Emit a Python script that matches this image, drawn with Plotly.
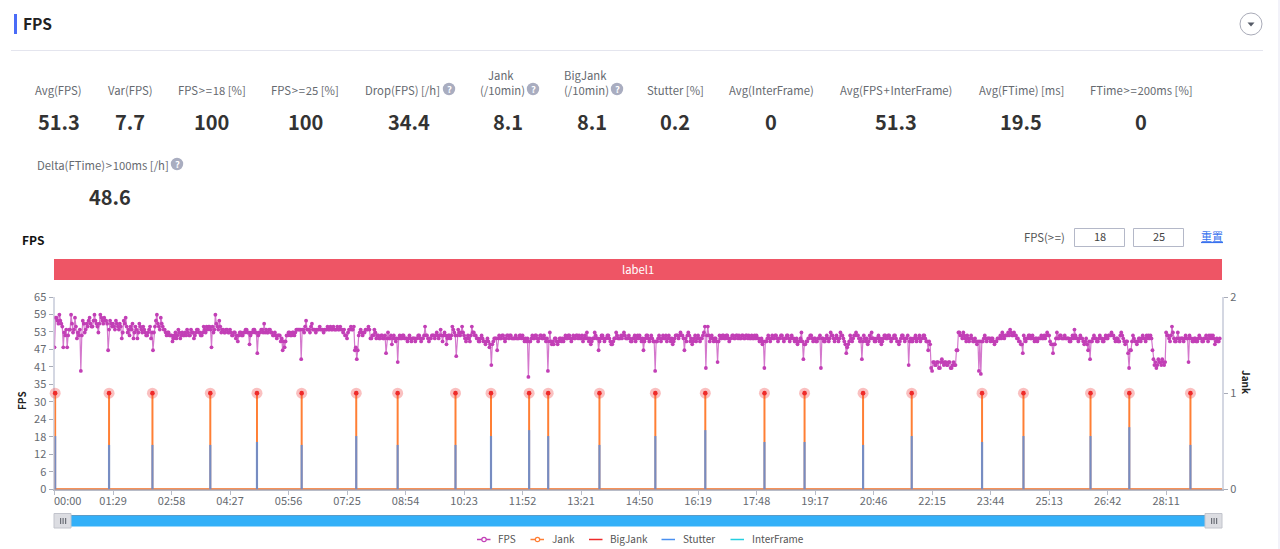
import plotly.graph_objects as go

W, H = 1280, 549
PL, PR, PT, PB = 54.5, 1222.0, 297.0, 489.3

# ---------- data ----------
fps_step_seconds = 89 / 60
fps_values = [
    48,58,58,57,56,59,57,56,55,48,53,52,54,48,52,54,54,59,56,53,54,58,55,51,53,52,54,40,52,57,56,53,54,56,55,57,58,56,55,55,57,59,57,56,55,53,56,59,58,57,56,58,57,57,56,47,54,57,56,55,
    56,55,54,57,56,55,54,56,55,51,53,57,56,58,55,53,54,52,55,54,56,51,53,55,54,51,53,56,55,54,53,55,54,53,52,52,53,54,55,51,53,47,53,55,57,59,56,55,54,58,56,55,54,54,53,52,53,53,52,52,
    52,50,51,52,53,51,52,54,53,51,52,53,52,52,53,52,54,53,52,52,54,53,53,51,52,53,54,54,53,53,52,52,53,55,54,53,55,54,55,55,54,48,55,53,54,59,56,55,54,57,55,53,54,54,53,53,54,54,53,53,
    54,53,52,52,53,53,51,52,50,52,53,53,52,52,53,53,54,54,53,53,49,52,53,53,54,54,53,53,46,52,53,53,54,54,53,56,53,54,53,53,54,54,53,53,52,52,53,52,51,52,52,52,50,51,47,50,48,50,52,52,
    53,53,52,52,53,53,52,53,54,54,54,54,54,44,54,54,53,55,57,54,54,54,53,55,56,54,54,54,53,54,54,54,55,54,54,54,53,54,54,54,55,54,54,55,54,54,55,54,54,54,55,54,54,55,54,54,53,54,52,52,
    51,53,54,54,55,54,54,55,47,48,44,47,52,53,54,53,52,53,53,54,54,54,55,54,51,51,52,52,54,53,51,52,52,51,51,52,52,51,51,52,46,51,53,51,51,52,49,51,52,51,50,51,43,51,52,51,51,52,52,51,
    51,51,50,51,52,51,50,51,51,51,50,51,51,52,52,51,50,51,51,52,55,52,52,51,50,51,51,52,52,52,51,52,53,52,51,52,54,52,50,52,53,52,49,51,52,52,51,52,55,54,53,52,45,52,54,53,52,53,55,53,
    52,51,50,51,52,51,50,52,55,53,53,52,52,51,51,50,50,51,52,51,50,50,49,50,51,50,48,49,42,49,50,51,51,51,47,51,52,51,51,52,52,51,50,51,52,52,51,52,52,51,51,51,51,52,51,51,51,52,52,51,
    52,51,50,51,50,51,38,50,50,51,52,51,51,52,52,51,50,51,52,52,51,51,52,51,50,51,40,50,53,50,49,50,49,51,51,50,49,50,51,51,50,51,50,51,52,51,51,52,52,51,50,51,52,51,51,52,52,51,52,51,
    51,52,50,51,52,51,53,51,50,51,49,50,51,51,53,52,51,51,47,50,51,52,52,51,50,51,51,52,52,51,50,49,49,50,51,51,53,52,51,51,51,52,51,52,53,52,51,51,51,52,51,50,50,51,51,52,50,51,52,51,
    52,51,50,51,47,50,51,52,52,51,50,51,52,51,50,50,40,50,50,51,52,51,50,51,52,51,51,52,50,51,52,51,50,51,49,50,51,52,52,52,51,52,53,52,52,51,47,51,50,52,53,52,50,51,49,50,51,52,50,51,
    52,51,50,51,51,52,53,55,41,52,55,52,50,51,52,51,50,51,51,50,43,50,52,51,51,52,52,51,51,52,52,51,50,51,51,52,52,51,51,52,52,51,52,51,51,52,52,51,51,52,52,51,52,51,51,52,51,51,52,51,
    52,51,51,50,50,51,49,50,41,50,50,51,52,51,50,51,52,51,51,52,52,51,50,51,51,52,52,51,50,51,51,52,52,51,50,51,52,51,51,50,50,51,49,50,50,51,53,50,44,49,49,50,50,51,51,52,52,51,50,51,
    51,50,50,51,51,52,41,51,51,50,50,51,52,51,50,51,53,52,52,51,50,51,52,51,50,51,53,52,52,51,50,49,46,48,49,50,52,51,50,51,52,52,53,52,52,51,50,51,44,50,52,51,50,51,49,50,52,51,53,51,
    51,50,50,51,51,52,50,51,49,50,51,52,52,51,51,52,52,51,50,51,51,52,52,51,50,50,49,50,51,52,52,51,50,51,51,52,42,50,51,50,50,51,51,52,50,51,51,52,50,51,51,52,52,51,50,50,47,50,49,41,
    40,43,43,42,42,43,43,41,41,43,44,43,42,43,43,42,42,43,43,41,41,42,43,42,42,47,47,53,53,52,52,51,53,52,51,50,52,51,50,51,52,51,50,50,51,50,49,50,40,50,39,50,50,51,52,51,50,51,51,51,
    50,51,51,50,49,50,50,51,51,51,52,51,53,52,51,52,52,52,53,52,54,53,52,52,53,52,52,51,51,50,50,49,49,46,52,51,50,51,51,52,52,51,51,52,51,50,51,51,50,51,51,51,52,51,51,52,51,52,53,52,
    52,50,49,49,46,49,49,51,53,51,51,52,52,51,51,51,52,51,51,51,51,50,50,51,52,51,54,52,51,51,50,51,52,51,51,50,49,50,51,49,47,50,44,50,50,51,52,51,51,50,50,51,52,51,51,50,50,51,52,51,
    51,52,52,52,53,52,52,51,50,51,51,50,50,52,53,52,51,50,49,50,50,46,41,47,47,50,52,51,50,50,49,50,51,51,50,51,52,51,51,50,52,51,52,51,52,51,47,44,42,43,41,42,44,43,43,42,44,43,42,43,
    53,52,52,51,50,52,55,53,51,50,50,51,53,51,50,51,51,51,50,51,52,51,51,43,52,51,51,50,50,51,51,50,50,51,52,51,51,50,50,51,51,52,51,50,52,51,52,51,52,51,49,50,51,50,50,51,
]
fps_seconds = [i * fps_step_seconds for i in range(len(fps_values))]

duration_seconds = 1776
event_seconds = [1, 83, 149, 237, 308, 376, 459, 522, 610, 664, 722, 751, 829,
                 914, 990, 1080, 1141, 1230, 1304, 1411, 1474, 1576, 1635, 1728]
stutter_values = [18, 15, 15, 15, 16, 15, 18, 15, 15, 18, 20, 18, 15,
                  18, 20, 16, 16, 15, 18, 16, 18, 18, 21, 15]
jank_values = [1] * len(event_seconds)

x_tick_seconds = [89 * i for i in range(20)]
x_tick_labels = ["", "01:29", "02:58", "04:27", "05:56", "07:25", "08:54", "10:23", "11:52",
                 "13:21", "14:50", "16:19", "17:48", "19:17", "20:46", "22:15", "23:44",
                 "25:13", "26:42", "28:11"]
y_tick_labels = ["0", "6", "12", "18", "24", "30", "35", "41", "47", "53", "59", "65"]
y_tick_values = [i * 65 / 11 for i in range(12)]

TS = "\u200a"
stat_labels = ["Avg(FPS)", "Var(FPS)", f"FPS{TS}>{TS}={TS}18 [%]", f"FPS{TS}>{TS}={TS}25 [%]", "Drop(FPS) [/h]", "(/10min)", "(/10min)",
               "Stutter [%]", "Avg(InterFrame)", f"Avg(FPS{TS}+{TS}InterFrame)", "Avg(FTime) [ms]", f"FTime{TS}>{TS}={TS}200ms [%]"]
stat_values = ["51.3", "7.7", "100", "100", "34.4", "8.1", "8.1", "0.2", "0", "51.3", "19.5", "0"]

# ---------- colours ----------
C_FPS, C_JANK, C_BIG, C_STUT, C_INTER = "#c23fb6", "#ff7f35", "#ee2b2b", "#4a90f0", "#25cfe0"
FONT = "Noto Sans CJK SC, Noto Sans, sans-serif"


def px(x):
    return x / W


def py(y):
    return 1 - y / H


anns, shapes = [], []


def text(x, y, s, size=11.3, color="#666a70", bold=False, anchor="center", angle=0):
    anns.append(dict(xref="paper", yref="paper", x=px(x), y=py(y - 1), text=f"<b>{s}</b>" if bold else s,
                     showarrow=False, xanchor=anchor, yanchor="middle", textangle=angle,
                     font=dict(family=FONT, size=size, color=color), borderpad=0, borderwidth=0))


def rect(x0, y0, x1, y1, fill=None, line=None, lw=1, layer="above"):
    shapes.append(dict(type="rect", xref="paper", yref="paper", x0=px(x0), x1=px(x1), y0=py(y0), y1=py(y1),
                       fillcolor=fill or "rgba(0,0,0,0)", line=dict(color=line or "rgba(0,0,0,0)", width=lw if line else 0),
                       layer=layer))


def hline(x0, x1, y, color, lw=1):
    shapes.append(dict(type="line", xref="paper", yref="paper", x0=px(x0), x1=px(x1), y0=py(y), y1=py(y),
                       line=dict(color=color, width=lw)))


def circle(cx, cy, r, fill=None, line=None, lw=1):
    shapes.append(dict(type="circle", xref="paper", yref="paper", x0=px(cx - r), x1=px(cx + r),
                       y0=py(cy + r), y1=py(cy - r), fillcolor=fill or "rgba(0,0,0,0)",
                       line=dict(color=line or "rgba(0,0,0,0)", width=lw if line else 0)))


def help_icon(cx, cy):
    circle(cx, cy, 6.2, fill="#a9adc0")
    text(cx, cy + 1, "?", size=9.5, color="#ffffff", bold=True)


# header
rect(14, 14, 17, 34, fill="#4a6cf7")
text(23, 24, "FPS", size=15.5, color="#222222", bold=True, anchor="left")
hline(11, 1263, 50.5, "#e4e5ee", 1)
circle(1251, 24, 11, line="#a9abb8", lw=1)
shapes.append(dict(type="path", xref="paper", yref="paper",
                   path=f"M {px(1247.5)} {py(22.5)} L {px(1254.5)} {py(22.5)} L {px(1251)} {py(26.5)} Z",
                   fillcolor="#555a66", line=dict(width=0)))

# stats
label_centres = [58.5, 130, 211.5, 305, 402.5, 502, 586.5, 675.5, 771.5, 896, 1021, 1141]
value_centres = [59, 130, 211, 305, 409, 508, 592, 675, 771, 896, 1021, 1141]
for lab, val, lc, vc in zip(stat_labels, stat_values, label_centres, value_centres):
    text(lc, 90.7, lab)
    text(vc, 122.7, val, size=20, color="#333333", bold=True)
text(501, 75.7, "Jank")
text(585, 75.7, "BigJank")
help_icon(449, 89)
help_icon(533, 89)
help_icon(617, 89)
text(102.5, 165.7, f"Delta(FTime){TS}>{TS}100ms [/h]")
help_icon(177, 164)
text(110, 197, "48.6", size=20, color="#333333", bold=True)

# chart header
text(22, 240, "FPS", size=12, color="#111111", bold=True, anchor="left")
text(1044.5, 238, f"FPS(>{TS}=)", size=11.3, color="#555555")
rect(1074.5, 228.5, 1124.5, 246.5, line="#b4b8c8")
rect(1133.5, 228.5, 1183.5, 246.5, line="#b4b8c8")
text(1099.5, 237, "18", size=11, color="#444444")
text(1158.5, 237, "25", size=11, color="#444444")
text(1211.5, 237, "<u>重置</u>", size=11, color="#3a72ee")

# label band
rect(54, 259, 1222, 280, fill="#ee5565", layer="below")
text(638, 269.5, "label1", size=11.3, color="#ffffff")

# slider
rect(54, 515, 1222, 526.5, fill="#33b0f8")
hline(54, 1222, 515.5, "#5a9cc8", 1)
for hx0 in (54, 1205):
    rect(hx0, 513.5, hx0 + 17, 528, fill="#dcdde2", line="#c2c4cc")
    for d in (6, 8.5, 11):
        rect(hx0 + d, 518, hx0 + d + 1.2, 524, fill="#6c7078")

# legend
legend_items = [("FPS", C_FPS, 477, 498, True), ("Jank", C_JANK, 530.5, 552, True), ("BigJank", C_BIG, 589, 610, False),
                ("Stutter", C_STUT, 661.5, 682.5, False), ("InterFrame", C_INTER, 730.5, 752, False)]
for name, col, lx, tx, dot in legend_items:
    hline(lx, lx + 13.5, 539.5, col, 1.5)
    if dot:
        circle(lx + 7, 539.5, 2.2, fill="#ffffff", line=col, lw=1.2)
    text(tx, 539.5, name, size=10, color="#555555", anchor="left")

# axis titles and nudged first tick label
text(21, 402, "FPS", size=10, color="#222222", bold=True, angle=-90)
text(1247, 383, "Jank", size=10, color="#222222", bold=True, angle=90)
text(67.5, 501, "00:00", size=11, color="#666a70")
# page edge strip
rect(1278, 0, 1280, 549, fill="#f2f2f9")

# ---------- series ----------
jank_x, jank_y = [0], [0]
for t, v in zip(event_seconds, jank_values):
    jank_x += [t, t, t]
    jank_y += [0, v, 0]
jank_x.append(duration_seconds)
jank_y.append(0)

stut_x, stut_y = [], []
for t, v in zip(event_seconds, stutter_values):
    stut_x += [t, t, None]
    stut_y += [0, v, None]

fig = go.Figure()
fig.add_trace(go.Scatter(name="FPS", x=fps_seconds, y=fps_values, mode="lines+markers", yaxis="y",
                         line=dict(color="rgba(194,63,182,0.7)", width=1.2),
                         marker=dict(color=C_FPS, size=3.8, line=dict(width=0))))
fig.add_trace(go.Scatter(name="InterFrame", x=[0, duration_seconds], y=[0, 0], mode="lines", yaxis="y",
                         line=dict(color=C_INTER, width=1)))
fig.add_trace(go.Scatter(name="BigJank", x=[0, duration_seconds], y=[0, 0], mode="lines", yaxis="y2",
                         line=dict(color=C_BIG, width=1)))
fig.add_trace(go.Scatter(name="Jank", x=jank_x, y=jank_y, mode="lines", yaxis="y2", cliponaxis=False,
                         line=dict(color=C_JANK, width=2)))
fig.add_trace(go.Scatter(name="Stutter", x=stut_x, y=stut_y, mode="lines", yaxis="y3",
                         line=dict(color=C_STUT, width=2.2), opacity=0.75))
fig.add_trace(go.Scatter(name="Jank point halo", x=event_seconds, y=jank_values, mode="markers", yaxis="y2",
                         cliponaxis=False, marker=dict(color="rgba(238,60,60,0.32)", size=11, line=dict(width=0))))
fig.add_trace(go.Scatter(name="Jank point", x=event_seconds, y=jank_values, mode="markers", yaxis="y2",
                         cliponaxis=False, marker=dict(color=C_BIG, size=4.6, line=dict(width=0))))

tickfont = dict(family=FONT, size=11, color="#666a70")
fig.update_layout(
    template="none", width=W, height=H, showlegend=False, paper_bgcolor="white", plot_bgcolor="white",
    margin=dict(l=0, r=0, t=0, b=0), annotations=anns, shapes=shapes,
    xaxis=dict(domain=[px(PL), px(PR)], range=[0, duration_seconds], tickmode="array", tickvals=x_tick_seconds,
               ticktext=x_tick_labels, ticks="outside", ticklen=4, tickcolor="#b8bcc8", tickwidth=1,
               showgrid=False, zeroline=False, showline=True, linecolor="#b8bcc8", linewidth=2,
               tickfont=tickfont, automargin=False, ticklabelstandoff=-4, layer="below traces"),
    yaxis=dict(domain=[py(PB), py(PT)], range=[0, 65], tickmode="array", tickvals=y_tick_values,
               ticktext=y_tick_labels, ticks="outside", ticklen=4, tickcolor="#a8acb8", tickwidth=1,
               showgrid=False, zeroline=False, showline=True, linecolor="#d4d7e2", linewidth=2,
               tickfont=tickfont, automargin=False, layer="below traces"),
    yaxis2=dict(overlaying="y", side="right", anchor="x", range=[0, 2], tickmode="array", tickvals=[0, 1, 2],
                ticktext=["0", "1", "2"], ticks="outside", ticklen=4, tickcolor="#a8acb8", tickwidth=1,
                showgrid=False, zeroline=False, showline=True, linecolor="#d4d7e2", linewidth=2,
                tickfont=tickfont, automargin=False),
    yaxis3=dict(overlaying="y", anchor="x", range=[0, 65], visible=False),
)

fig.write_html("out.html", config=dict(displayModeBar=False),
               post_script="document.body.style.margin='0';document.body.style.overflow='hidden';")
